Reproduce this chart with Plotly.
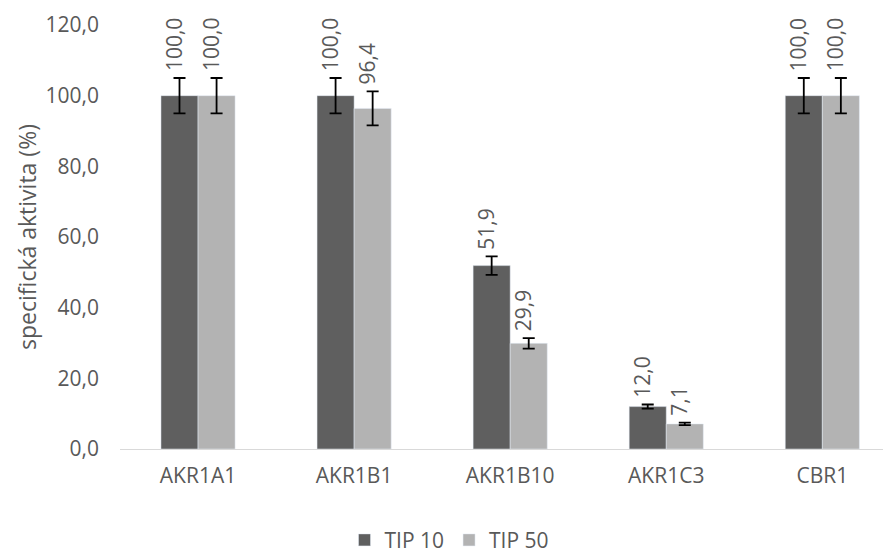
import plotly.graph_objects as go

categories = ["AKR1A1", "AKR1B1", "AKR1B10", "AKR1C3", "CBR1"]
tip10 = [100.0, 100.0, 51.9, 12.0, 100.0]
tip50 = [100.0, 96.4, 29.9, 7.1, 100.0]
tip10_err = [5.0, 5.0, 2.6, 0.6, 5.0]
tip50_err = [5.0, 4.8, 1.5, 0.36, 5.0]
yticks = [0, 20, 40, 60, 80, 100, 120]

FONT = "Open Sans, Liberation Sans, sans-serif"
FS = 21
TXT = "#595959"
DARK = "#5f5f5f"
LIGHT = "#b3b3b3"

fig = go.Figure()
fig.add_trace(go.Bar(
    name="TIP 10", x=categories, y=tip10, marker_color=DARK,
    error_y=dict(type="data", array=tip10_err, color="black", thickness=1.8, width=6),
))
fig.add_trace(go.Bar(
    name="TIP 50", x=categories, y=tip50, marker_color=LIGHT,
    error_y=dict(type="data", array=tip50_err, color="black", thickness=1.8, width=6),
))

off = 0.118
ann = []
for i, c in enumerate(categories):
    for vals, errs, dx in ((tip10, tip10_err, -off), (tip50, tip50_err, off)):
        ann.append(dict(
            x=i + dx, y=vals[i] + errs[i], xref="x", yref="y",
            text=f"{vals[i]:.1f}".replace(".", ","), showarrow=False,
            textangle=-90, yanchor="bottom", xanchor="center", yshift=5, xshift=-6,
            font=dict(family=FONT, size=FS, color=TXT),
        ))

# page body has an 8px margin, so the figure is offset by 8px
fig.update_layout(
    width=883, height=547,
    margin=dict(l=112, r=0, t=17, b=106, autoexpand=False),
    plot_bgcolor="white", paper_bgcolor="white",
    barmode="group", bargap=0.525, bargroupgap=0,
    font=dict(family=FONT, size=FS, color=TXT),
    annotations=ann,
    legend=dict(orientation="h", x=0.5, xanchor="center", xref="container",
                y=0.027, yanchor="middle", yref="container",
                font=dict(family=FONT, size=FS, color=TXT), itemwidth=30),
    showlegend=True,
)
fig.update_xaxes(range=[-0.5, 4.44], showline=True, linecolor="#d9d9d9", linewidth=1,
                 ticks="", automargin=False, ticklabelstandoff=8,
                 tickfont=dict(family=FONT, size=FS, color=TXT))
fig.update_yaxes(range=[0, 120], tickvals=yticks,
                 ticktext=[f"{v:.1f}".replace(".", ",") for v in yticks],
                 showgrid=False, zeroline=False, showline=False, ticks="",
                 ticklabelstandoff=20, automargin=False,
                 title=dict(text="specifická aktivita (%)", standoff=2,
                            font=dict(family=FONT, size=23, color=TXT)),
                 tickfont=dict(family=FONT, size=FS, color=TXT))

fig.write_html("out.html")
